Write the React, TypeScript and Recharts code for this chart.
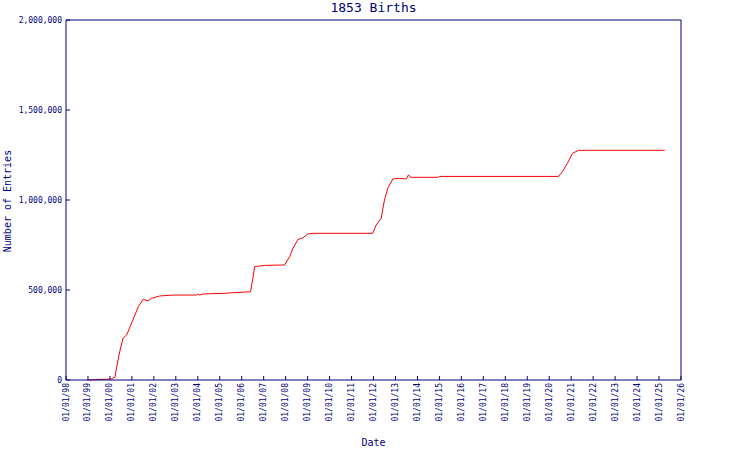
import React from "react";
import { LineChart, Line, XAxis, YAxis, ReferenceLine } from "recharts";

const NAVY = "#000080";
const FONT = "'DejaVu Sans Mono', 'Liberation Mono', monospace";

// decimal year of each sampled point
const dates = [
  1998.97, 2000.03, 2000.23, 2000.3, 2000.45, 2000.6, 2000.76, 2000.99, 2001.14, 2001.29,
  2001.51, 2001.74, 2001.9, 2002.27, 2002.88, 2003.94, 2004.0, 2004.09, 2004.24, 2005.23,
  2005.91, 2006.4, 2006.5, 2006.59, 2007.09, 2007.95, 2008.18, 2008.33, 2008.56, 2008.79,
  2009.01, 2009.24, 2011.97, 2012.12, 2012.35, 2012.5, 2012.65, 2012.88, 2013.18, 2013.49,
  2013.59, 2013.71, 2014.92, 2015.0, 2020.42, 2020.6, 2020.83, 2021.06, 2021.33, 2025.26,
];
// number of entries at each date
const entries = [
  0, 5000, 15000, 67000, 160000, 233000, 250000, 317000, 361000, 407000,
  448000, 440000, 454000, 467000, 472000, 472000, 477000, 472000, 478000, 482000,
  487000, 490000, 560000, 630000, 637000, 639000, 685000, 731000, 781000, 790000,
  811000, 815000, 815000, 861000, 898000, 1000000, 1065000, 1117000, 1120000, 1117000,
  1139000, 1126000, 1126000, 1131000, 1131000, 1157000, 1204000, 1259000, 1276000, 1276000,
];
const tickYears = [
  1998, 1999, 2000, 2001, 2002, 2003, 2004, 2005, 2006, 2007, 2008, 2009, 2010, 2011, 2012,
  2013, 2014, 2015, 2016, 2017, 2018, 2019, 2020, 2021, 2022, 2023, 2024, 2025, 2026,
];
const yTicks = [0, 500000, 1000000, 1500000, 2000000];

const data = dates.map((t, i) => ({ t, v: entries[i] }));
const fmtDate = (y: number) => "01/01/" + String(y % 100).padStart(2, "0");
const fmtNum = (v: number) => v.toLocaleString("en-US");

const XTick = (props: any) => {
  const { x, y, payload } = props;
  return (
    <g>
      <line x1={x} y1={y} x2={x} y2={y - 4} stroke={NAVY} strokeWidth={1} />
      <text
        x={x}
        y={y + 3}
        transform={`rotate(-90, ${x}, ${y + 3})`}
        textAnchor="end"
        dominantBaseline="central"
        fontFamily={FONT}
        fontSize={8}
        fill={NAVY}
      >
        {fmtDate(payload.value)}
      </text>
    </g>
  );
};

const LeftTick = (props: any) => {
  const { x, y, payload } = props;
  return (
    <g>
      <line x1={x} y1={y} x2={x + 4} y2={y} stroke={NAVY} strokeWidth={1} />
      <text x={x - 4} y={y} textAnchor="end" dominantBaseline="central" fontFamily={FONT} fontSize={8} fill={NAVY}>
        {fmtNum(payload.value)}
      </text>
    </g>
  );
};

const RightTick = (props: any) => {
  const { x, y, payload } = props;
  return (
    <g>
      <line x1={x} y1={y} x2={x - 4} y2={y} stroke={NAVY} strokeWidth={1} />
      <text x={x + 3} y={y} textAnchor="start" dominantBaseline="central" fontFamily={FONT} fontSize={8} fill={NAVY}>
        {fmtNum(payload.value)}
      </text>
    </g>
  );
};

export default function App() {
  return (
    <div style={{ position: "absolute", left: 0, top: 0, width: 750, height: 450, background: "#fff" }}>
      <LineChart
        width={750}
        height={450}
        data={data}
        margin={{ top: 20, right: 0, left: 0, bottom: 0 }}
      >
        <XAxis
          dataKey="t"
          type="number"
          domain={[1998, 2026]}
          ticks={tickYears}
          interval={0}
          height={70}
          tickSize={0}
          tickMargin={0}
          tickLine={false}
          axisLine={{ stroke: NAVY, strokeWidth: 1 }}
          tick={<XTick />}
        />
        <YAxis
          yAxisId="left"
          orientation="left"
          domain={[0, 2000000]}
          ticks={yTicks}
          width={66}
          tickSize={0}
          tickMargin={0}
          tickLine={false}
          axisLine={{ stroke: NAVY, strokeWidth: 1 }}
          tick={<LeftTick />}
        />
        <YAxis
          yAxisId="right"
          orientation="right"
          domain={[0, 2000000]}
          ticks={yTicks}
          width={69}
          tickSize={0}
          tickMargin={0}
          tickLine={false}
          axisLine={{ stroke: NAVY, strokeWidth: 1 }}
          tick={<RightTick />}
        />
        <ReferenceLine yAxisId="left" y={2000000} stroke={NAVY} strokeWidth={1} />
        <Line
          yAxisId="left"
          dataKey="v"
          type="linear"
          stroke="#ff0000"
          strokeWidth={1}
          dot={false}
          isAnimationActive={false}
        />
      </LineChart>
      <div
        style={{
          position: "absolute",
          left: 0,
          width: 747,
          top: 0,
          textAlign: "center",
          fontFamily: FONT,
          fontSize: 13,
          color: NAVY,
          lineHeight: "16px",
        }}
      >
        1853 Births
      </div>
      <div
        style={{
          position: "absolute",
          left: 0,
          width: 747,
          top: 436,
          textAlign: "center",
          fontFamily: FONT,
          fontSize: 10,
          color: NAVY,
          lineHeight: "14px",
        }}
      >
        Date
      </div>
      <div
        style={{
          position: "absolute",
          left: 8 - 100,
          top: 201 - 7,
          width: 200,
          textAlign: "center",
          fontFamily: FONT,
          fontSize: 10,
          color: NAVY,
          lineHeight: "14px",
          transform: "rotate(-90deg)",
        }}
      >
        Number of Entries
      </div>
    </div>
  );
}
